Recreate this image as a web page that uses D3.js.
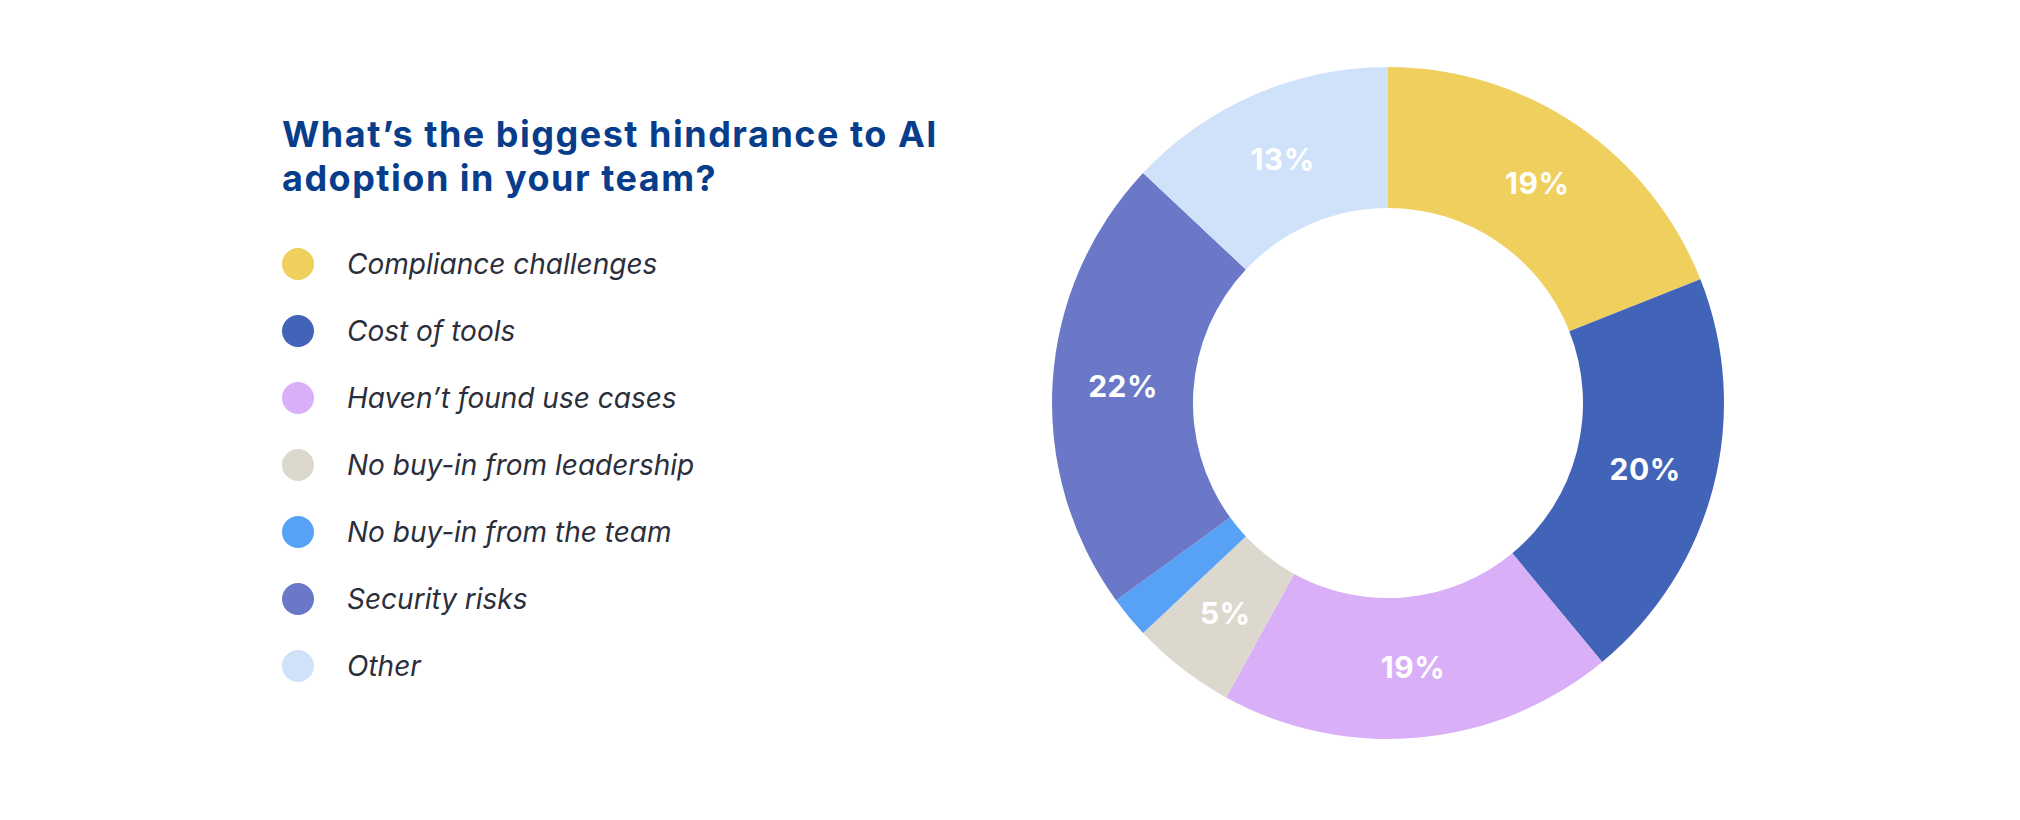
<!DOCTYPE html>
<html>
<head>
<meta charset="utf-8">
<script src="https://cdn.jsdelivr.net/npm/d3@7"></script>
<style>
  html, body { margin: 0; padding: 0; background: #fff; }
  svg { display: block; }
</style>
</head>
<body>
<svg width="2020" height="820"></svg>
<script>
var titleLines = ["What\u2019s the biggest hindrance to AI", "adoption in your team?"];
var categories = ["Compliance challenges", "Cost of tools", "Haven\u2019t found use cases",
  "No buy-in from leadership", "No buy-in from the team", "Security risks", "Other"];
var values = [19, 20, 19, 5, 2, 22, 13];
var colors = ["#efcf5d", "#4264b8", "#d9aff8", "#dcd8cd", "#57a2f7", "#6b77c7", "#cfe2fa"];

var svg = d3.select("svg"),
  width = +svg.attr("width"),
  height = +svg.attr("height");

var data = categories.map(function (c, i) { return { name: c, value: values[i] }; });

var z = d3.scaleOrdinal().domain(categories).range(colors);

// title
svg.append("g")
  .selectAll("text")
  .data(titleLines)
  .enter().append("text")
  .attr("x", 282)
  .attr("y", function (d, i) { return 147 + i * 44; })
  .attr("fill", "#073d8b")
  .attr("font-family", "Inter, sans-serif")
  .attr("font-weight", 700)
  .attr("font-size", 36)
  .attr("letter-spacing", 1.5)
  .text(function (d) { return d; });

// legend
var row = d3.scalePoint().domain(categories).range([264, 666]);

var legend = svg.append("g")
  .selectAll("g")
  .data(categories)
  .enter().append("g")
  .attr("transform", function (d) { return "translate(298," + row(d) + ")"; });

legend.append("circle")
  .attr("r", 16)
  .attr("fill", z);

legend.append("text")
  .attr("x", 49)
  .attr("dy", "0.35em")
  .attr("fill", "#2b2e3b")
  .attr("font-family", "Inter, sans-serif")
  .attr("font-style", "italic")
  .attr("font-size", 28)
  .text(function (d) { return d; });

// donut
var outerRadius = 336,
  innerRadius = 195;

var g = svg.append("g").attr("transform", "translate(1388,403)");

var pie = d3.pie().sort(null).value(function (d) { return d.value; });

var arc = d3.arc()
  .innerRadius(innerRadius)
  .outerRadius(outerRadius);

var arcs = pie(data);

g.append("g")
  .selectAll("path")
  .data(arcs)
  .enter().append("path")
  .attr("fill", function (d) { return z(d.data.name); })
  .attr("d", arc);

g.append("g")
  .selectAll("text")
  .data(arcs.filter(function (d) { return d.data.value >= 5; }))
  .enter().append("text")
  .attr("transform", function (d) { return "translate(" + arc.centroid(d) + ")"; })
  .attr("text-anchor", "middle")
  .attr("dy", "0.36em")
  .attr("fill", "#fff")
  .attr("font-family", "Inter, sans-serif")
  .attr("font-weight", 700)
  .attr("font-size", 30)
  .attr("letter-spacing", 0.5)
  .text(function (d) { return d.data.value + "%"; });
</script>
</body>
</html>
